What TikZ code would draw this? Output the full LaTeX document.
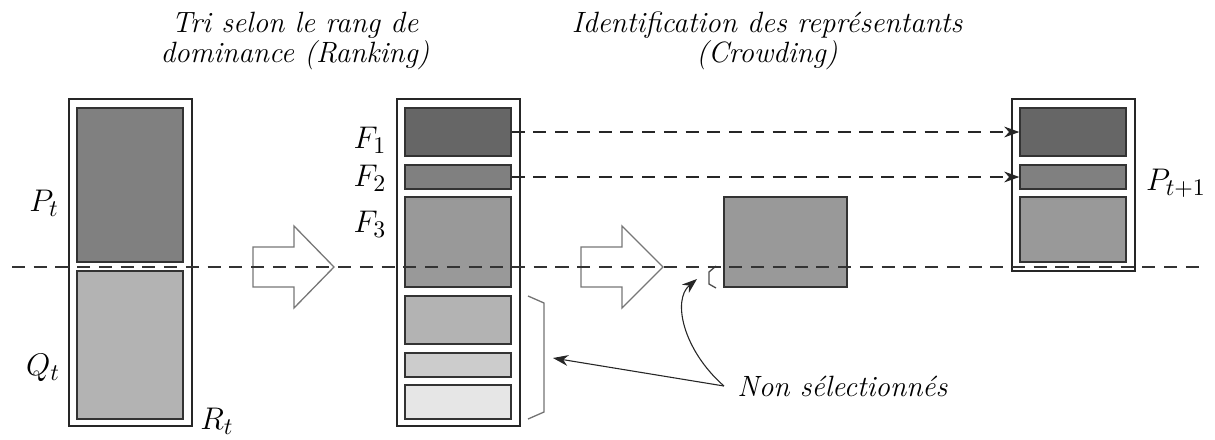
\documentclass[tikz,border=0pt]{standalone}
\usetikzlibrary{fit,arrows.meta}
\definecolor{gA}{HTML}{666666}
\definecolor{gB}{HTML}{808080}
\definecolor{gC}{HTML}{999999}
\definecolor{gD}{HTML}{B3B3B3}
\definecolor{gE}{HTML}{CCCCCC}
\definecolor{gF}{HTML}{E6E6E6}
\definecolor{edge}{HTML}{333333}
\definecolor{arrowgray}{HTML}{777777}
\begin{document}
\begin{tikzpicture}[x=0.46pt,y=-0.46pt,
  outerbox/.style={draw=black!85,line width=0.6pt,inner sep=0pt},
  fillbox/.style={draw=edge,line width=0.6pt,inner sep=0pt},
  blockarrow/.style={draw=arrowgray,line width=0.6pt},
  sep/.style={draw=black!80,line width=0.5pt,dash pattern=on 6pt off 4pt},
  link/.style={draw=black!85,line width=0.5pt,dash pattern=on 6pt off 4pt,-{Stealth[length=7pt,width=5pt]}},
  pointer/.style={draw=black!85,line width=0.5pt,-{Stealth[length=7pt,width=5pt]}},
  bracket/.style={draw=black!55,line width=0.6pt},
  lab/.style={inner sep=0pt,font=\fontsize{15}{18}\selectfont},
  title/.style={font=\fontsize{13.5}{12.6}\selectfont\itshape,align=center,inner sep=0pt}]
\useasboundingbox (0,0) rectangle (1215,439);

% left column
\node[outerbox,fit={(69,99)(192,426)}] (R) {};
\node[fillbox,fill=gB,fit={(77,108)(183,262)}] (Pt) {};
\node[fillbox,fill=gD,fit={(77,271)(183,419)}] (Qt) {};
\node[lab] (lPt) at (44,203) {$P_t$};
\node[lab] (lQt) at (43,368) {$Q_t$};
\node[lab] (lRt) at (217,421) {$R_t$};

% middle column
\node[outerbox,fit={(397,99)(520,426)}] (M) {};
\node[fillbox,fill=gA,fit={(405,108)(511,156)}] (F1) {};
\node[fillbox,fill=gB,fit={(405,165)(511,189)}] (F2) {};
\node[fillbox,fill=gC,fit={(405,197)(511,287)}] (F3) {};
\node[fillbox,fill=gD,fit={(405,296)(511,344)}] (F4) {};
\node[fillbox,fill=gE,fit={(405,353)(511,377)}] (F5) {};
\node[fillbox,fill=gF,fit={(405,385)(511,419)}] (F6) {};
\node[lab] (lF1) at (370,140) {$F_1$};
\node[lab] (lF2) at (370,178) {$F_2$};
\node[lab] (lF3) at (370,224) {$F_3$};
\draw[bracket] (528,296) -- (544,303) -- (544,412) -- (528,419);

% crowding block
\node[fillbox,fill=gC,fit={(724,197)(847,287)}] (C) {};
\draw[bracket,draw=black!70] (716,266) -- (709,272) -- (709,284) -- (716,288);

% right column
\node[outerbox,fit={(1012,99)(1135,271)}] (N) {};
\node[fillbox,fill=gA,fit={(1020,108)(1126,156)}] (G1) {};
\node[fillbox,fill=gB,fit={(1020,165)(1126,189)}] (G2) {};
\node[fillbox,fill=gC,fit={(1020,197)(1126,262)}] (G3) {};
\node[lab] (lPn) at (1176,183) {$P_{t+1}$};

% block arrows
\draw[blockarrow] (253,247) -- (294,247) -- (294,226) -- (334,267) -- (294,308) -- (294,287) -- (253,287) -- cycle;
\draw[blockarrow] (581,247) -- (622,247) -- (622,226) -- (663,267) -- (622,308) -- (622,287) -- (581,287) -- cycle;

% separating dashed line
\coordinate (sepL) at (12,267);
\coordinate (sepR) at (1203,267);
\draw[sep] (sepL) -- (sepR);

% links
\draw[link] (F1.east) -- (G1.west);
\draw[link] (F2.east) -- (G2.west);

% titles
\node[title] (t1) at (295,41) {Tri selon le rang de\\dominance (Ranking)};
\node[title] (t2) at (767,41) {Identification des repr\'esentants\\(Crowding)};

% not selected
\node[title,anchor=west] (ns) at (737,386) {Non s\'electionn\'es};
\coordinate (bt) at (697,279);
\coordinate (bl) at (553,358);
\draw[pointer] ([xshift=-6pt]ns.west) .. controls (683,350) and (672,300) .. (bt);
\draw[pointer] ([xshift=-6pt]ns.west) -- (bl);
\end{tikzpicture}
\end{document}
